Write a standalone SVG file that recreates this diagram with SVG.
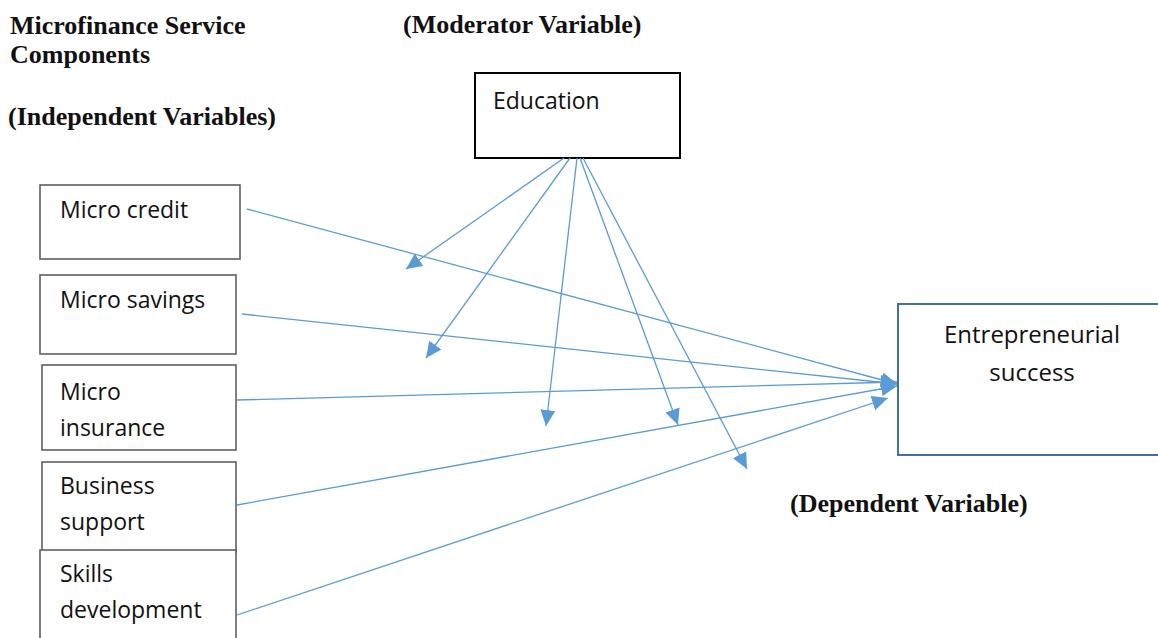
<svg xmlns="http://www.w3.org/2000/svg" width="1158" height="638" viewBox="0 0 1158 638">
<style>
.h{font-family:"Liberation Serif","Times New Roman",serif;font-weight:bold;font-size:26px;fill:#111}
.t{font-family:"Open Sans","Noto Sans",sans-serif;font-size:23px;fill:#111}
.t2{font-size:24px}
.b{fill:#fff;stroke:#5f5f5f;stroke-width:1.6}
.c{fill:none;stroke:#5b9bd5;stroke-width:1.3}
</style>
<defs>
<marker id="ah" markerUnits="userSpaceOnUse" markerWidth="17" markerHeight="16" refX="16" refY="7.5" orient="auto">
<path d="M0,0 L16,7.5 L0,15 z" fill="#5b9bd5"/>
</marker>
</defs>
<rect width="1158" height="638" fill="#fff"/>
<g id="headings">
<text class="h" x="10" y="34">Microfinance Service</text>
<text class="h" x="10" y="63">Components</text>
<text class="h" x="8" y="125">(Independent Variables)</text>
<text class="h" x="403" y="33">(Moderator Variable)</text>
<text class="h" x="790" y="512">(Dependent Variable)</text>
</g>
<g id="education">
<rect x="475" y="73" width="205" height="85" fill="#fff" stroke="#000" stroke-width="2"/>
<text class="t" x="493" y="109">Education</text>
</g>
<g id="micro-credit">
<rect class="b" x="40" y="185" width="200" height="74"/>
<text class="t" x="60" y="218">Micro credit</text>
</g>
<g id="micro-savings">
<rect class="b" x="40" y="275" width="196" height="79"/>
<text class="t" x="60" y="308">Micro savings</text>
</g>
<g id="micro-insurance">
<rect class="b" x="42" y="365" width="194" height="85"/>
<text class="t" x="60" y="400">Micro</text>
<text class="t" x="60" y="436">insurance</text>
</g>
<g id="business-support">
<rect class="b" x="42" y="462" width="194" height="90"/>
<text class="t" x="60" y="494">Business</text>
<text class="t" x="60" y="530">support</text>
</g>
<g id="skills-development">
<rect class="b" x="40" y="550" width="196" height="100"/>
<text class="t" x="60" y="582">Skills</text>
<text class="t" x="60" y="618">development</text>
</g>
<g id="entrepreneurial-success">
<rect x="898" y="304" width="270" height="151" fill="#fff" stroke="#41719c" stroke-width="2"/>
<text class="t t2" x="1032" y="343" text-anchor="middle">Entrepreneurial</text>
<text class="t t2" x="1032" y="381" text-anchor="middle">success</text>
</g>
<g id="connectors">
<path class="c" d="M564,158 L406,269" marker-end="url(#ah)"/>
<path class="c" d="M570,158 L426,358" marker-end="url(#ah)"/>
<path class="c" d="M577,158 L546,426" marker-end="url(#ah)"/>
<path class="c" d="M580,158 L678,425" marker-end="url(#ah)"/>
<path class="c" d="M583,158 L747,469" marker-end="url(#ah)"/>
<path class="c" d="M247,209 L897,384" marker-end="url(#ah)"/>
<path class="c" d="M242,314 L897,384" marker-end="url(#ah)"/>
<path class="c" d="M237,400 L897,382" marker-end="url(#ah)"/>
<path class="c" d="M237,505 L897,386" marker-end="url(#ah)"/>
<path class="c" d="M237,615 L888,398" marker-end="url(#ah)"/>
</g>
</svg>
